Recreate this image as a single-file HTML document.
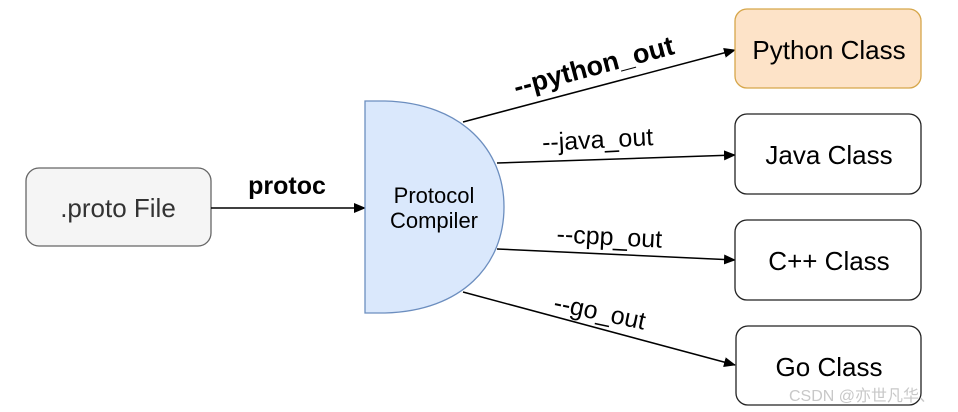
<!DOCTYPE html>
<html><head><meta charset="utf-8"><style>
html,body{margin:0;padding:0;background:#fff;}
svg{display:block}
text{font-family:"Liberation Sans","Noto Sans CJK SC",sans-serif;}
</style></head><body>
<svg width="958" height="412" viewBox="0 0 958 412" xmlns="http://www.w3.org/2000/svg">
<defs>
<marker id="a" markerWidth="12" markerHeight="10" refX="11" refY="5" orient="auto" markerUnits="userSpaceOnUse">
<path d="M0,0 L12,5 L0,10 Z" fill="#000"/>
</marker>
</defs>
<rect x="26" y="168" width="185" height="78" rx="13" fill="#f5f5f5" stroke="#666" stroke-width="1.3"/>
<text x="118" y="217" font-size="26" text-anchor="middle" fill="#333">.proto File</text>
<line x1="211" y1="208" x2="365" y2="208" stroke="#000" stroke-width="1.5" marker-end="url(#a)"/>
<text x="287" y="194" font-size="25" font-weight="bold" text-anchor="middle">protoc</text>

<path d="M365,101 L385,101 C462,103 504,150 504,207 C504,265 462,311 385,313 L365,313 Z" fill="#dae8fc" stroke="#6c8ebf" stroke-width="1.3"/>
<text x="434" y="203" font-size="22" text-anchor="middle">Protocol</text>
<text x="434" y="228" font-size="22" text-anchor="middle">Compiler</text>

<line x1="463" y1="122" x2="735" y2="50" stroke="#000" stroke-width="1.5" marker-end="url(#a)"/>
<line x1="497" y1="163" x2="735" y2="155" stroke="#000" stroke-width="1.5" marker-end="url(#a)"/>
<line x1="497" y1="249" x2="735" y2="260" stroke="#000" stroke-width="1.5" marker-end="url(#a)"/>
<line x1="463" y1="292" x2="735" y2="365" stroke="#000" stroke-width="1.5" marker-end="url(#a)"/>

<text transform="translate(596,75) rotate(-15)" font-size="27" font-weight="bold" text-anchor="middle">--python_out</text>
<text transform="translate(598,148) rotate(-3)" font-size="25" text-anchor="middle">--java_out</text>
<text transform="translate(609,245) rotate(3)" font-size="25" text-anchor="middle">--cpp_out</text>
<text transform="translate(598,320) rotate(12)" font-size="25" text-anchor="middle">--go_out</text>

<rect x="735" y="9" width="186" height="79" rx="12" fill="#fde3c8" stroke="#d6a64a" stroke-width="1.3"/>
<text x="829" y="59" font-size="26" text-anchor="middle">Python Class</text>
<rect x="735" y="114" width="186" height="80" rx="12" fill="#fff" stroke="#222" stroke-width="1.3"/>
<text x="829" y="164" font-size="26" text-anchor="middle">Java Class</text>
<rect x="735" y="220" width="186" height="80" rx="12" fill="#fff" stroke="#222" stroke-width="1.3"/>
<text x="829" y="270" font-size="26" text-anchor="middle">C++ Class</text>
<rect x="736" y="326" width="185" height="79" rx="12" fill="#fff" stroke="#222" stroke-width="1.3"/>
<text x="829" y="376" font-size="26" text-anchor="middle">Go Class</text>

<text x="789" y="401" font-size="16" fill="#c8c8c8">CSDN @亦世凡华、</text>
</svg>
</body></html>
